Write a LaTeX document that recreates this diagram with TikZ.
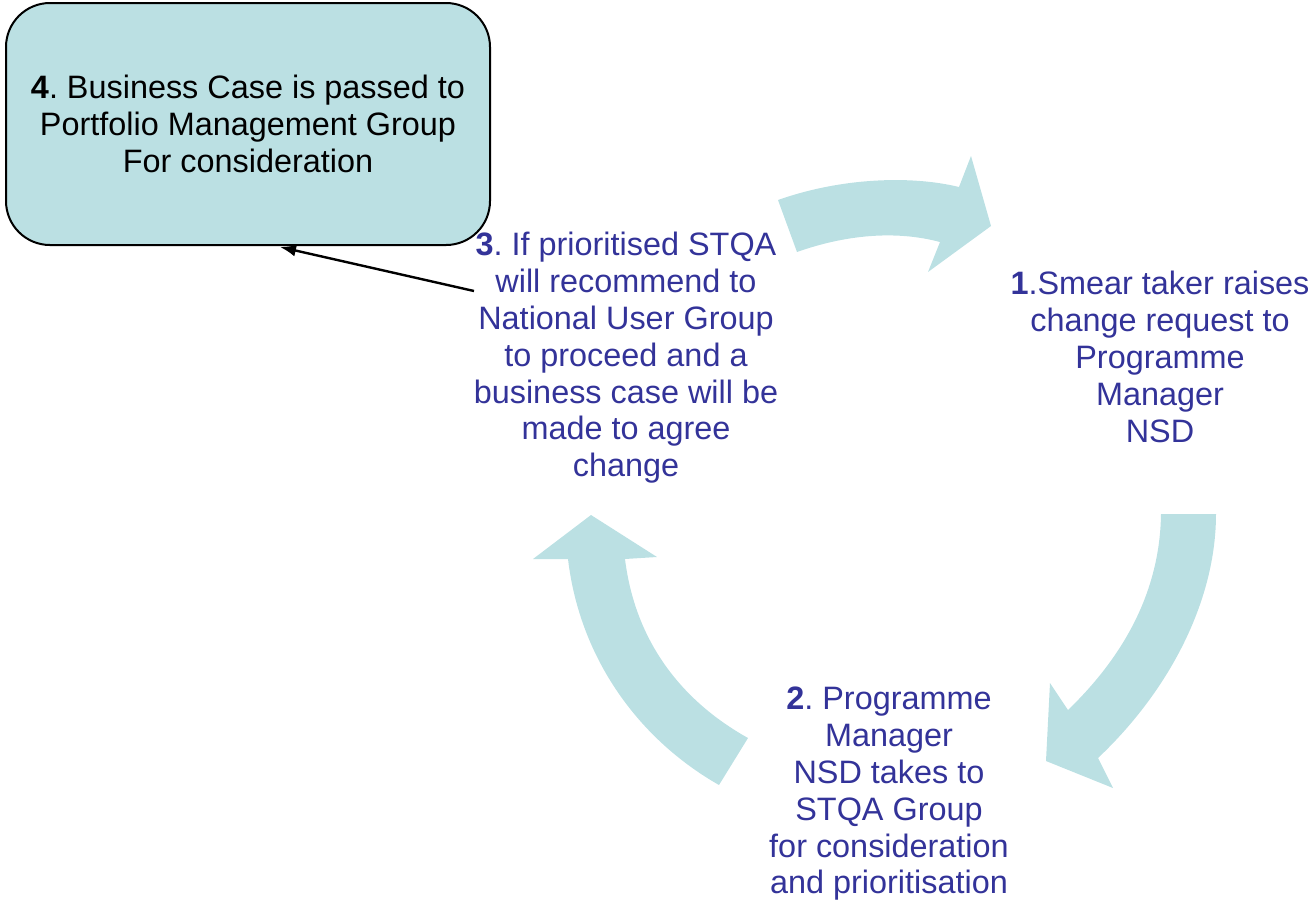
\documentclass[tikz,border=0pt]{standalone}
\usepackage{fontspec}
\setmainfont{Liberation Sans}
\usetikzlibrary{arrows.meta, calc}
\definecolor{cyclefill}{RGB}{187,224,227}
\definecolor{stepblue}{RGB}{51,51,153}
\tikzset{
  stepfont/.style={font=\fontsize{16.2}{18.4}\selectfont\frenchspacing},
  steptext/.style={stepfont, text=stepblue, align=center},
}

\begin{document}
\begin{tikzpicture}[x=0.5pt, y=-0.5pt]
        \useasboundingbox (0,0) rectangle (1308,902);

        % Cycle arrows
        \fill[cyclefill] (778,200) .. controls (840,178) and (910,175) .. (959,187)
            -- (971,156) -- (991,226) -- (928,272) -- (940,242)
            .. controls (895,230) and (845,235) .. (797,252) -- cycle;
        \fill[cyclefill] (1161,514) -- (1216,514) .. controls (1216,600) and (1170,690) .. (1098,758)
            -- (1113,788) -- (1046,761) -- (1050,683) -- (1068,710)
            .. controls (1125,655) and (1160,590) .. (1161,514) -- cycle;
        \fill[cyclefill] (748,738) -- (719,785) .. controls (640,740) and (580,660) .. (568,559)
            -- (533,559) -- (591,515) -- (657,557) -- (625,559)
            .. controls (635,640) and (680,700) .. (748,738) -- cycle;

        % Business case box
        \node[stepfont, draw=black, line width=1pt, fill=cyclefill, rounded corners=22pt,
              minimum width=242pt, minimum height=121pt, align=center] (step4) at (248,124)
            {\textbf{4}. Business Case is passed to\\Portfolio Management Group\\For consideration};

        % Steps
        \node[steptext] (step1) at (1160,357)
            {\textbf{1}.Smear taker raises\\change request to\\Programme\\Manager\\NSD};
        \node[steptext] (step2) at (889,794)
            {\textbf{2}. Programme\\Manager\\NSD takes to\\STQA Group\\for consideration\\and prioritisation};
        \node[steptext] (step3) at (626,358)
            {\textbf{3}. If prioritised STQA\\will recommend to\\National User Group\\to proceed and a\\business case will be\\made to agree\\change};

        % Link to box
        \coordinate (tail3) at (474,291);
        \draw[line width=1.2pt, -{Latex[length=8pt,width=6pt]}] (tail3) -- ($(step4.south)+(32,1)$);
\end{tikzpicture}
\end{document}
